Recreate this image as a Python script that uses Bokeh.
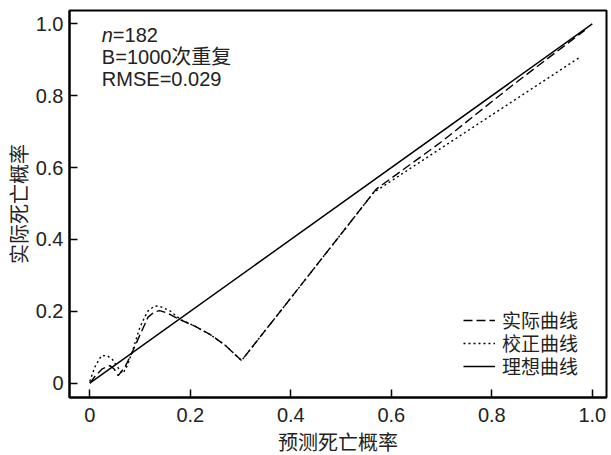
from bokeh.plotting import figure
from bokeh.models import Range1d, FixedTicker, Legend, LegendItem, Label
from bokeh.embed import file_html
from bokeh.resources import INLINE

# ---- data ----
ideal_x = [0.0, 1.0]
ideal_y = [0.0, 1.0]

actual_x = [0.0, 0.012, 0.025, 0.04, 0.048, 0.0565, 0.07, 0.083, 0.10, 0.116, 0.128, 0.139,
            0.155, 0.176, 0.21, 0.24, 0.27, 0.302, 0.40, 0.50, 0.57, 0.70, 0.84, 0.985]
actual_y = [0.0, 0.022, 0.04, 0.049, 0.04, 0.021, 0.045, 0.082, 0.135, 0.184, 0.198, 0.202,
            0.195, 0.179, 0.158, 0.135, 0.105, 0.063, 0.237, 0.415, 0.54, 0.672, 0.828, 0.982]

calib_x = [0.0, 0.01, 0.023, 0.035, 0.045, 0.055, 0.066, 0.075, 0.085, 0.10, 0.115, 0.128,
           0.138, 0.16, 0.18, 0.21, 0.24, 0.27, 0.302, 0.40, 0.50, 0.565, 0.975]
calib_y = [0.005, 0.045, 0.077, 0.076, 0.066, 0.045, 0.027, 0.05, 0.09, 0.157, 0.2, 0.214,
           0.215, 0.201, 0.178, 0.158, 0.135, 0.105, 0.063, 0.237, 0.415, 0.531, 0.907]

x_ticks = [0.0, 0.2, 0.4, 0.6, 0.8, 1.0]
x_tick_labels = ["0", "0.2", "0.4", "0.6", "0.8", "1.0"]
y_ticks = [0.0, 0.2, 0.4, 0.6, 0.8, 1.0]
y_tick_labels = ["0", "0.2", "0.4", "0.6", "0.8", "1.0"]

series_names = ["实际曲线", "校正曲线", "理想曲线"]
annot_lines = ["n", "=182", "B=1000次重复", "RMSE=0.029"]
x_title = "预测死亡概率"
y_title = "实际死亡概率"

LAT = "Liberation Sans"
CJK = "Noto Sans CJK SC"
MIX = "Liberation Sans, 'Noto Sans CJK SC'"

p = figure(frame_width=537, frame_height=387, output_backend="svg", toolbar_location=None,
           x_range=Range1d(-0.0404, 1.0283), y_range=Range1d(-0.0398, 1.0373),
           min_border_left=68, min_border_right=4, min_border_top=10, min_border_bottom=40)

p.grid.visible = False
p.outline_line_color = "black"
p.outline_line_width = 2
p.background_fill_color = "white"

for ax in (p.xaxis[0], p.yaxis[0]):
    ax.axis_line_width = 2
    ax.axis_line_color = "black"
    ax.major_tick_in = 8
    ax.major_tick_out = 0
    ax.major_tick_line_width = 1.5
    ax.major_tick_line_color = "black"
    ax.minor_tick_line_color = None
    ax.major_label_text_font = LAT
    ax.major_label_text_font_size = "20px"
    ax.major_label_text_color = "#222222"
    ax.axis_label_text_font = CJK
    ax.axis_label_text_font_size = "20px"
    ax.axis_label_text_font_style = "normal"
    ax.axis_label_text_color = "#222222"

p.xaxis.ticker = FixedTicker(ticks=x_ticks)
p.yaxis.ticker = FixedTicker(ticks=y_ticks)
p.xaxis.major_label_overrides = dict(zip(x_ticks, x_tick_labels))
p.yaxis.major_label_overrides = dict(zip(y_ticks, y_tick_labels))
p.xaxis.major_label_standoff = 10
p.yaxis.major_label_standoff = 6
p.xaxis.axis_label = x_title
p.yaxis.axis_label = y_title
p.xaxis.axis_label_standoff = 2
p.yaxis.axis_label_standoff = 0

r_act = p.line(actual_x, actual_y, line_color="black", line_width=1.4, line_dash="9 4")
r_cal = p.line(calib_x, calib_y, line_color="black", line_width=1.4, line_dash="2 3")
r_ide = p.line(ideal_x, ideal_y, line_color="black", line_width=1.5)

leg_bottoms = [64, 41, 18]
for name, rend, yb in zip(series_names, [r_act, r_cal, r_ide], leg_bottoms):
    lg = Legend(items=[LegendItem(label=name, renderers=[rend])],
                location=(394, yb), orientation="vertical",
                border_line_color=None, background_fill_alpha=0,
                padding=0, margin=0, spacing=0,
                glyph_width=32, glyph_height=20, label_height=20, label_standoff=7,
                label_text_font=MIX, label_text_font_size="19px", label_text_color="#222222")
    p.add_layout(lg, "center")

ax0 = 0.024
p.add_layout(Label(x=ax0, y=0.968, text=annot_lines[0], text_font=MIX, text_font_size="20px",
                   text_font_style="italic", text_color="#222222", text_baseline="alphabetic"))
p.add_layout(Label(x=ax0, y=0.968, x_offset=11, text=annot_lines[1], text_font=MIX,
                   text_font_size="20px", text_color="#222222", text_baseline="alphabetic"))
p.add_layout(Label(x=ax0, y=0.908, text=annot_lines[2], text_font=MIX, text_font_size="20px",
                   text_color="#222222", text_baseline="alphabetic"))
p.add_layout(Label(x=ax0, y=0.848, text=annot_lines[3], text_font=MIX, text_font_size="20px",
                   text_color="#222222", text_baseline="alphabetic"))

open("out.html", "w").write(file_html(p, INLINE))
